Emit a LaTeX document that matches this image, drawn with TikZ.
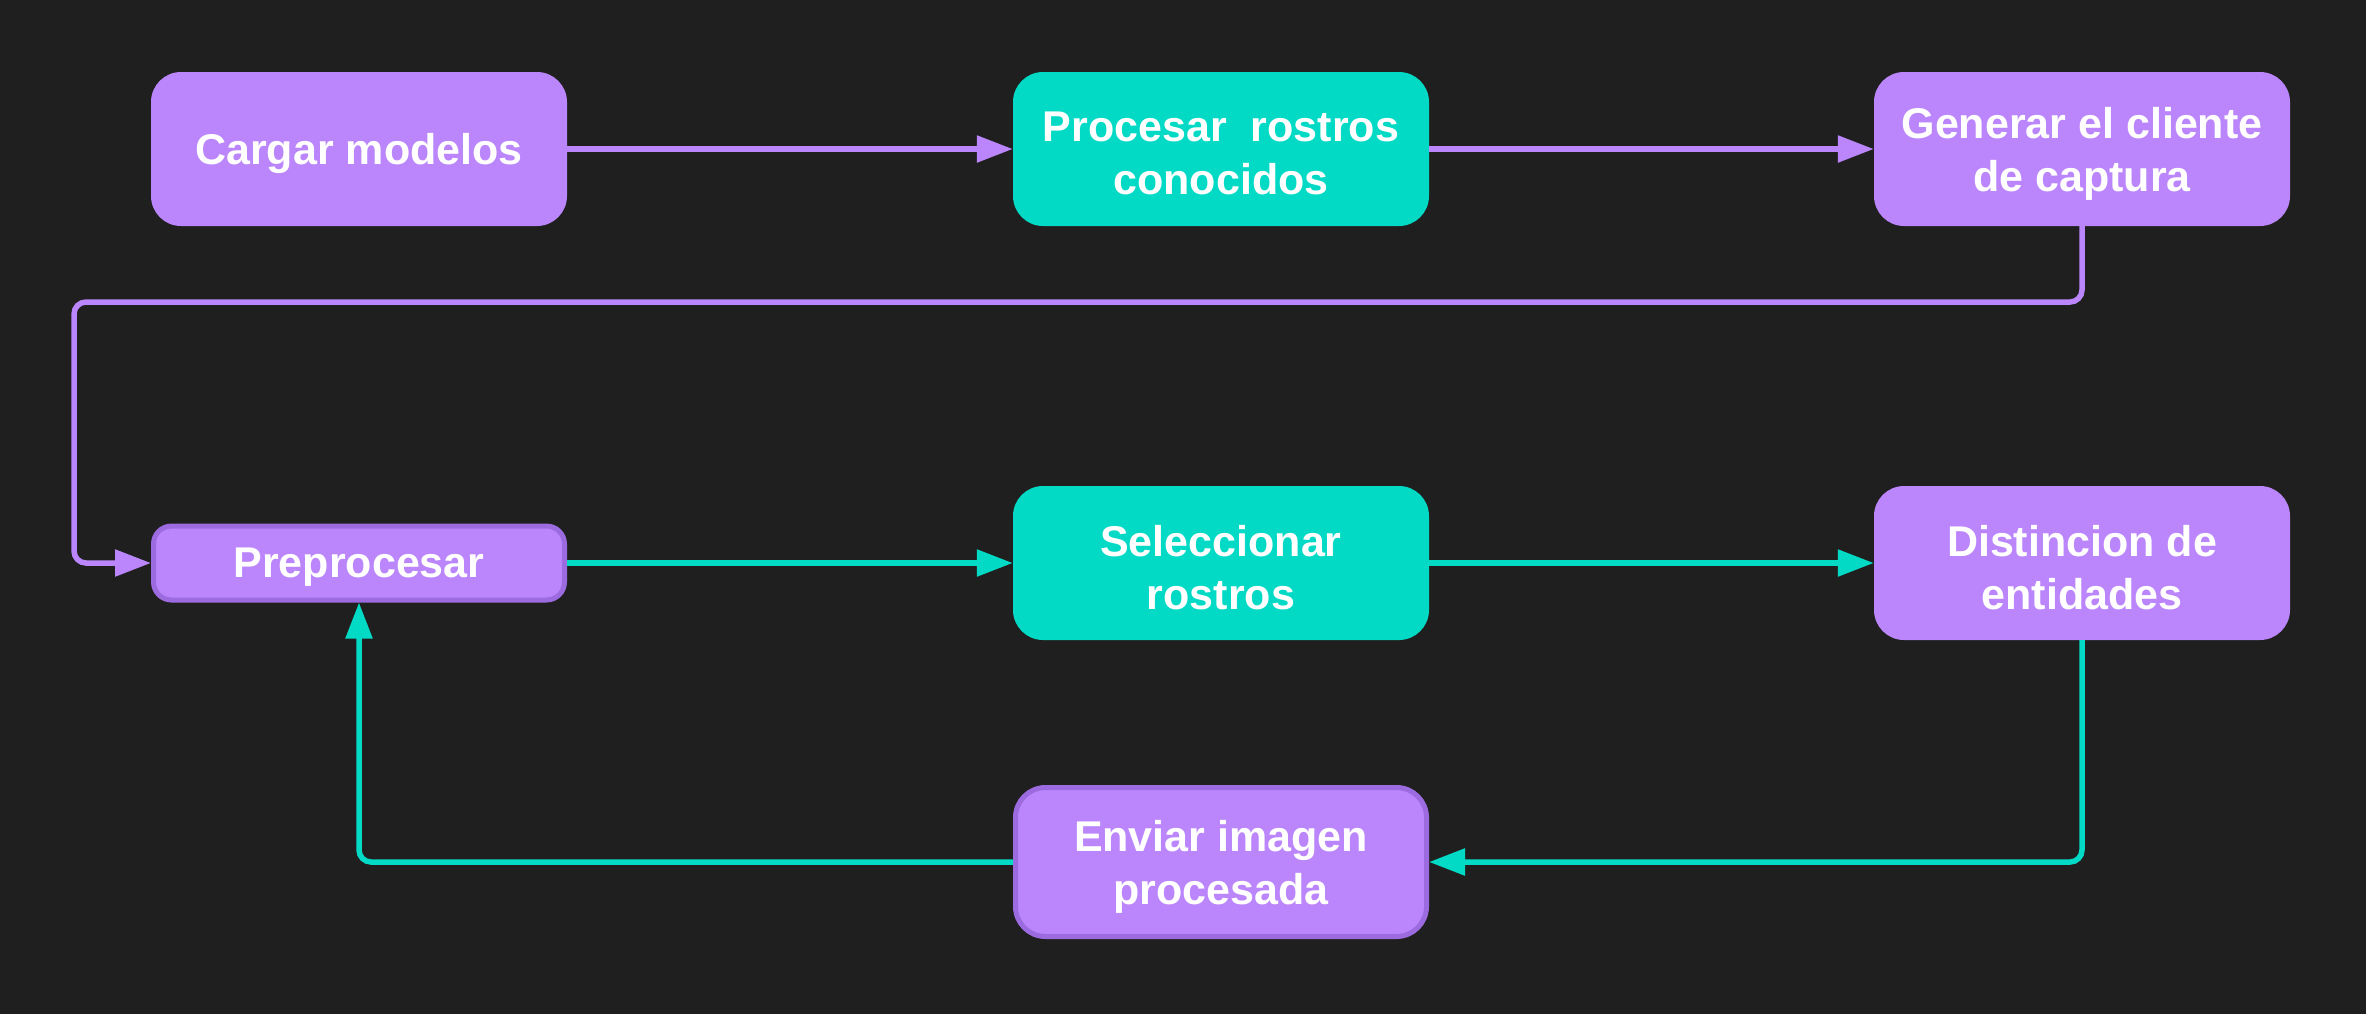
\documentclass[tikz,border=0pt]{standalone}
\usepackage{fontspec}
\setmainfont{Liberation Sans}
\usetikzlibrary{arrows.meta}
\definecolor{bg}{HTML}{1F1F1F}
\definecolor{purp}{HTML}{BB86FC}
\definecolor{tealc}{HTML}{03DAC6}
\definecolor{purpb}{HTML}{9D6BE0}
\begin{document}
\begin{tikzpicture}[x=1pt,y=-1pt,
  txt/.style={align=center, text=white, inner sep=0pt, yshift=-4.5pt, font=\fontsize{43}{53}\selectfont\bfseries},
  box/.style={rounded corners=30pt, minimum width=416pt, minimum height=154pt, inner sep=0pt},
  pbox/.style={box, fill=purp},
  tbox/.style={box, fill=tealc},
  bordered/.style={draw=purpb, line width=5pt},
  conn/.style={line width=5.5pt, rounded corners=12pt, -{Triangle[length=36pt,width=26pt]}},
  pline/.style={conn, draw=purp},
  tline/.style={conn, draw=tealc}
]
\useasboundingbox (0,0) rectangle (2366,1013);
\fill[bg] (-20,-20) rectangle (2386,1033);

\node[pbox, label={[txt]center:Cargar modelos}] (car) at (359,149) {};
\node[tbox, label={[txt]center:Procesar~~rostros\\conocidos}] (pro) at (1221,149) {};
\node[pbox, label={[txt]center:Generar el cliente\\de captura}] (gen) at (2082,149) {};
\node[pbox, bordered, rounded corners=18pt, minimum width=411pt, minimum height=74pt,
  label={[txt]center:Preprocesar}] (pre) at (359,563) {};
\node[tbox, label={[txt]center:Seleccionar\\rostros}] (sel) at (1221,563) {};
\node[pbox, label={[txt]center:Distincion de\\entidades}] (dis) at (2082,563) {};
\node[pbox, bordered, minimum width=411pt, minimum height=149pt,
  label={[txt]center:Enviar imagen\\procesada}] (env) at (1221,862) {};

\coordinate (c1) at (74,302);

\draw[pline] (car.east) -- (pro.west);
\draw[pline] (pro.east) -- (gen.west);
\draw[pline] (gen.south) |- (c1) |- (pre.west);
\draw[tline] (pre.east) -- (sel.west);
\draw[tline] (sel.east) -- (dis.west);
\draw[tline] (dis.south) |- (env.east);
\draw[tline] (env.west) -| (pre.south);
\end{tikzpicture}
\end{document}
